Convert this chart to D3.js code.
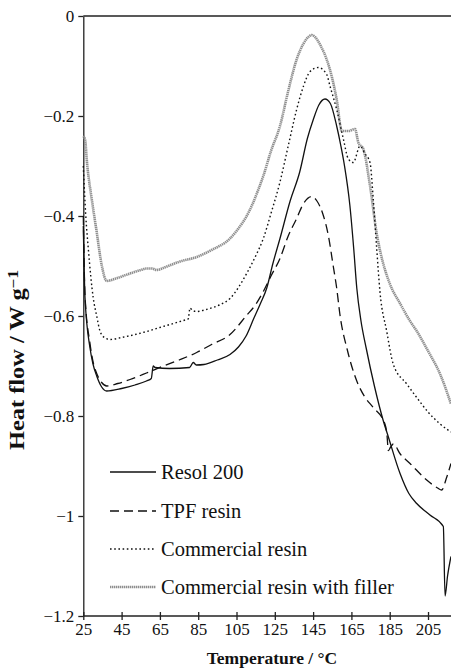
<!DOCTYPE html>
<html>
<head>
<meta charset="utf-8">
<script src="https://cdn.jsdelivr.net/npm/d3@7"></script>
<style>
  body { margin: 0; background: #fff; }
  svg text { font-family: "Liberation Serif", "Times New Roman", serif; fill: #111; }
</style>
</head>
<body>
<div id="chart"></div>
<script>
// temperature (°C) and heat flow (W/g)
var resolT = [25, 25.9, 28.5, 30, 32, 34.6, 37.2, 45, 52, 58, 60.5, 61.5, 62.5, 70, 80.5, 82.4, 84, 88, 95, 101.6, 106, 110, 114, 117.5, 120.8, 124, 127.7, 133, 138, 142, 145.1, 148, 151.2, 154, 157.3, 159.5, 161.4, 164.2, 166.2, 167.8, 170, 172.7, 177, 181.6, 184.3, 190.4, 195, 199.1, 206, 213, 213.9, 215.2, 217];
var resolV = [-0.42, -0.564, -0.664, -0.695, -0.72, -0.742, -0.75, -0.745, -0.738, -0.73, -0.725, -0.70, -0.703, -0.705, -0.703, -0.693, -0.698, -0.697, -0.688, -0.677, -0.662, -0.64, -0.605, -0.575, -0.544, -0.495, -0.445, -0.37, -0.312, -0.245, -0.207, -0.178, -0.166, -0.175, -0.22, -0.26, -0.30, -0.379, -0.465, -0.544, -0.61, -0.664, -0.74, -0.809, -0.842, -0.915, -0.955, -0.975, -0.998, -1.021, -1.16, -1.12, -1.081];

var tpfT = [25, 25.9, 28.5, 30, 32, 34.6, 37.2, 43, 49.4, 58, 66.8, 75, 84.2, 92, 101.6, 110, 115, 119, 123, 127.7, 132, 136.4, 140, 144.2, 147, 150, 153, 155.5, 157.3, 159, 163, 167.8, 172, 176.4, 182.5, 183.5, 184.3, 185.5, 186.9, 190.5, 195.6, 204.3, 210, 212.1, 214.8, 217];
var tpfV = [-0.40, -0.56, -0.655, -0.69, -0.715, -0.733, -0.74, -0.735, -0.727, -0.714, -0.70, -0.688, -0.673, -0.657, -0.637, -0.60, -0.577, -0.551, -0.52, -0.485, -0.44, -0.405, -0.375, -0.361, -0.37, -0.395, -0.44, -0.50, -0.544, -0.597, -0.67, -0.73, -0.762, -0.783, -0.816, -0.835, -0.869, -0.862, -0.856, -0.876, -0.895, -0.928, -0.944, -0.948, -0.922, -0.895];

var commT = [25, 26.3, 27.6, 30.2, 32, 33.7, 36, 38.9, 45, 52, 58.1, 65, 72, 79, 79.8, 80.7, 82, 84.2, 90, 96, 101.6, 106, 110.3, 115, 119, 123, 127.7, 132, 136.4, 140, 143.4, 147.7, 152.1, 153.8, 157.3, 160.8, 163.4, 166, 169.5, 172, 174.7, 176.4, 178.2, 179.9, 183.4, 186.9, 193.9, 199.1, 205, 211.3, 217];
var commV = [-0.30, -0.40, -0.465, -0.564, -0.60, -0.63, -0.643, -0.647, -0.643, -0.637, -0.631, -0.623, -0.615, -0.607, -0.606, -0.584, -0.589, -0.591, -0.586, -0.578, -0.565, -0.543, -0.515, -0.48, -0.445, -0.395, -0.332, -0.26, -0.187, -0.14, -0.111, -0.103, -0.117, -0.14, -0.187, -0.246, -0.286, -0.293, -0.26, -0.275, -0.293, -0.366, -0.465, -0.551, -0.63, -0.697, -0.736, -0.763, -0.792, -0.816, -0.832];

var fillT = [25, 25.9, 27.1, 29.4, 32, 34.6, 37.2, 42, 49.4, 55, 58.1, 61, 63.3, 68, 75.5, 84.2, 92, 101.6, 106, 110.3, 113.5, 116.5, 119, 123, 127.7, 132, 136.4, 140, 142.5, 144.2, 146, 149, 152.1, 155, 157.3, 160, 163.4, 166.9, 168.6, 171.2, 174.7, 178.2, 180, 185, 190.4, 195.6, 199.1, 205, 211.3, 217];
var fillV = [-0.24, -0.247, -0.30, -0.366, -0.432, -0.498, -0.53, -0.525, -0.515, -0.508, -0.505, -0.505, -0.508, -0.502, -0.491, -0.482, -0.468, -0.445, -0.425, -0.40, -0.375, -0.346, -0.32, -0.27, -0.22, -0.15, -0.087, -0.055, -0.042, -0.038, -0.042, -0.06, -0.087, -0.125, -0.167, -0.23, -0.23, -0.226, -0.253, -0.266, -0.339, -0.435, -0.47, -0.535, -0.575, -0.61, -0.63, -0.67, -0.716, -0.776];

var seriesNames = ["Resol 200", "TPF resin", "Commercial resin", "Commercial resin with filler"];
var xTicks = [25, 45, 65, 85, 105, 125, 145, 165, 185, 205];
var yTicks = [0, -0.2, -0.4, -0.6, -0.8, -1, -1.2];

var svgWidth = 451, svgHeight = 668;
var margin = { top: 16, right: 0, bottom: 48, left: 83.3 };

var svg = d3.select("#chart").append("svg")
  .attr("width", svgWidth)
  .attr("height", svgHeight);

var x = d3.scaleLinear().domain([25, 217]).range([margin.left, svgWidth - margin.right]);
var y = d3.scaleLinear().domain([-1.2, 0]).range([svgHeight - margin.bottom - 4, margin.top]);

function zipSeries(ts, vs) {
  return ts.map(function(t, i) { return { t: t, v: vs[i] }; });
}

var series = [
  { name: seriesNames[0], data: zipSeries(resolT, resolV), stroke: "#111", width: 1.3, dash: null },
  { name: seriesNames[1], data: zipSeries(tpfT, tpfV), stroke: "#111", width: 1.3, dash: "9,5" },
  { name: seriesNames[2], data: zipSeries(commT, commV), stroke: "#111", width: 1.4, dash: "1.6,2.6" },
  { name: seriesNames[3], data: zipSeries(fillT, fillV), stroke: "#8f8f8f", width: 2.6, dash: "1.4,0.6" }
];

// top border line
svg.append("line")
  .attr("x1", x(25)).attr("x2", svgWidth)
  .attr("y1", y(0)).attr("y2", y(0))
  .attr("stroke", "#222").attr("stroke-width", 1.3);

// y axis
var yAxis = svg.append("g")
  .attr("transform", "translate(" + x(25) + ",0)")
  .call(d3.axisLeft(y).tickValues(yTicks).tickSize(5).tickSizeOuter(0).tickPadding(4).tickFormat(d3.format("~g")));
yAxis.selectAll("text").attr("font-size", "17px");

// x axis, ticks crossing the line
var xAxis = svg.append("g")
  .attr("transform", "translate(0," + y(-1.2) + ")")
  .call(d3.axisBottom(x).tickValues(xTicks).tickSize(4).tickSizeOuter(0).tickPadding(3));
xAxis.selectAll(".tick line").attr("y1", -4);
xAxis.selectAll("text").attr("font-size", "17px");
xAxis.select(".domain").attr("d", "M" + x(25) + ",0H" + svgWidth);

svg.selectAll(".domain, .tick line").attr("stroke", "#222").attr("stroke-width", 1.3);

// curves
var line = d3.line()
  .x(function(d) { return x(d.t); })
  .y(function(d) { return y(d.v); })
  .curve(d3.curveMonotoneX);

svg.append("g").selectAll("path")
  .data(series.slice().reverse())
  .enter()
  .append("path")
  .attr("d", function(d) { return line(d.data); })
  .attr("fill", "none")
  .attr("stroke", function(d) { return d.stroke; })
  .attr("stroke-width", function(d) { return d.width; })
  .attr("stroke-dasharray", function(d) { return d.dash; });

// legend
var legendY = [472, 511, 549, 587];
var legend = svg.append("g");
series.forEach(function(s, i) {
  legend.append("line")
    .attr("x1", 110).attr("x2", 156)
    .attr("y1", legendY[i]).attr("y2", legendY[i])
    .attr("stroke", s.stroke)
    .attr("stroke-width", s.width)
    .attr("stroke-dasharray", s.dash);
  legend.append("text")
    .attr("x", 161)
    .attr("y", legendY[i])
    .attr("dy", "0.35em")
    .attr("font-size", "20.5px")
    .text(s.name);
});

// axis titles
svg.append("text")
  .attr("x", 272)
  .attr("y", 664)
  .attr("text-anchor", "middle")
  .attr("font-size", "17.5px")
  .attr("font-weight", "bold")
  .text("Temperature / °C");

var yTitle = svg.append("text")
  .attr("transform", "translate(24,360)rotate(-90)scale(1.22,1)")
  .attr("text-anchor", "middle")
  .attr("font-size", "20px")
  .attr("font-weight", "bold");
yTitle.append("tspan").text("Heat flow / W g");
yTitle.append("tspan").attr("dy", "-0.45em").attr("font-size", "14px").text("−1");
</script>
</body>
</html>
